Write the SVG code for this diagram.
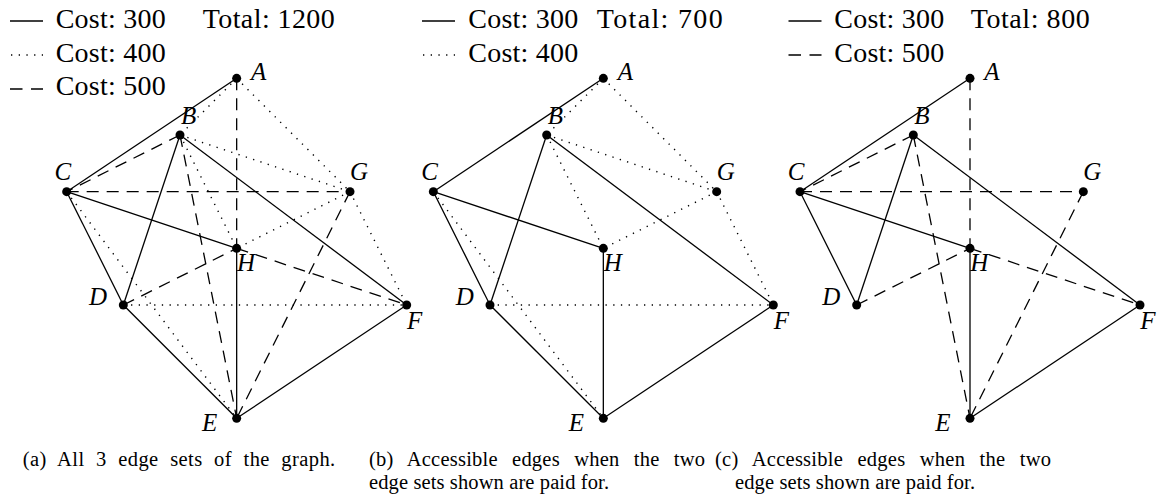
<svg xmlns="http://www.w3.org/2000/svg" width="1163" height="495" viewBox="0 0 1163 495">
<style>
.s{stroke:#000;stroke-width:1.3;fill:none}
.dt{stroke:#000;stroke-width:1.4;fill:none;stroke-dasharray:1.3 6.4}
.ds{stroke:#000;stroke-width:1.3;fill:none;stroke-dasharray:12 8}
.n{fill:#000}
.lb{font-family:"Liberation Serif",serif;font-style:italic;font-size:25px;fill:#000}
.lg{font-family:"Liberation Serif",serif;font-size:28px;fill:#000}
.cp{font-family:"Liberation Serif",serif;font-size:20.5px;fill:#000}
</style>
<rect width="1163" height="495" fill="#fff"/>
<g id="legend-a">
<line class="s" x1="10" y1="21" x2="43" y2="21"/>
<text class="lg" x="55.7" y="27.7" textLength="110" lengthAdjust="spacing">Cost: 300</text>
<text class="lg" x="202.7" y="27.7" textLength="132" lengthAdjust="spacing">Total: 1200</text>
<line class="dt" x1="11" y1="55" x2="43" y2="55"/>
<text class="lg" x="55.7" y="61.7" textLength="110" lengthAdjust="spacing">Cost: 400</text>
<line class="ds" x1="10" y1="89" x2="43" y2="89" style="stroke-dasharray:12.5 8.5"/>
<text class="lg" x="55.7" y="95.3" textLength="110" lengthAdjust="spacing">Cost: 500</text>
</g>
<g id="legend-b">
<line class="s" x1="422" y1="21" x2="455" y2="21"/>
<text class="lg" x="468.3" y="27.7" textLength="110" lengthAdjust="spacing">Cost: 300</text>
<text class="lg" x="596.7" y="27.7" textLength="126" lengthAdjust="spacing">Total: 700</text>
<line class="dt" x1="423" y1="55" x2="455" y2="55"/>
<text class="lg" x="468.3" y="61.7" textLength="110" lengthAdjust="spacing">Cost: 400</text>
</g>
<g id="legend-c">
<line class="s" x1="788.5" y1="21" x2="821.5" y2="21"/>
<text class="lg" x="834.3" y="27.7" textLength="110" lengthAdjust="spacing">Cost: 300</text>
<text class="lg" x="970.7" y="27.7" textLength="119" lengthAdjust="spacing">Total: 800</text>
<line class="ds" x1="788.5" y1="55" x2="821.5" y2="55" style="stroke-dasharray:12.5 8.5"/>
<text class="lg" x="834.3" y="61.7" textLength="110" lengthAdjust="spacing">Cost: 500</text>
</g>
<g id="connectors">
<!-- panel a -->
<line class="s" x1="236.67" y1="78.33" x2="66.67" y2="191.67"/>
<line class="s" x1="66.67" y1="191.67" x2="236.67" y2="248.33"/>
<line class="s" x1="66.67" y1="191.67" x2="123.33" y2="305"/>
<line class="s" x1="180" y1="135" x2="123.33" y2="305"/>
<line class="s" x1="180" y1="135" x2="406.67" y2="305"/>
<line class="s" x1="236.67" y1="248.33" x2="236.67" y2="418.33"/>
<line class="s" x1="123.33" y1="305" x2="236.67" y2="418.33"/>
<line class="s" x1="236.67" y1="418.33" x2="406.67" y2="305"/>
<line class="dt" x1="236.67" y1="78.33" x2="180" y2="135"/>
<line class="dt" x1="236.67" y1="78.33" x2="350" y2="191.67"/>
<line class="dt" x1="180" y1="135" x2="350" y2="191.67"/>
<line class="dt" x1="180" y1="135" x2="236.67" y2="248.33"/>
<line class="dt" x1="350" y1="191.67" x2="236.67" y2="248.33"/>
<line class="dt" x1="350" y1="191.67" x2="406.67" y2="305"/>
<line class="dt" x1="66.67" y1="191.67" x2="236.67" y2="418.33"/>
<line class="dt" x1="123.33" y1="305" x2="406.67" y2="305"/>
<line class="ds" x1="236.67" y1="78.33" x2="236.67" y2="248.33"/>
<line class="ds" x1="180" y1="135" x2="66.67" y2="191.67"/>
<line class="ds" x1="66.67" y1="191.67" x2="350" y2="191.67"/>
<line class="ds" x1="180" y1="135" x2="236.67" y2="418.33"/>
<line class="ds" x1="123.33" y1="305" x2="236.67" y2="248.33"/>
<line class="ds" x1="236.67" y1="248.33" x2="406.67" y2="305"/>
<line class="ds" x1="350" y1="191.67" x2="236.67" y2="418.33"/>
<!-- panel b -->
<line class="s" x1="603.33" y1="78.33" x2="433.33" y2="191.67"/>
<line class="s" x1="433.33" y1="191.67" x2="603.33" y2="248.33"/>
<line class="s" x1="433.33" y1="191.67" x2="490" y2="305"/>
<line class="s" x1="546.67" y1="135" x2="490" y2="305"/>
<line class="s" x1="546.67" y1="135" x2="773.33" y2="305"/>
<line class="s" x1="603.33" y1="248.33" x2="603.33" y2="418.33"/>
<line class="s" x1="490" y1="305" x2="603.33" y2="418.33"/>
<line class="s" x1="603.33" y1="418.33" x2="773.33" y2="305"/>
<line class="dt" x1="603.33" y1="78.33" x2="546.67" y2="135"/>
<line class="dt" x1="603.33" y1="78.33" x2="716.67" y2="191.67"/>
<line class="dt" x1="546.67" y1="135" x2="716.67" y2="191.67"/>
<line class="dt" x1="546.67" y1="135" x2="603.33" y2="248.33"/>
<line class="dt" x1="716.67" y1="191.67" x2="603.33" y2="248.33"/>
<line class="dt" x1="716.67" y1="191.67" x2="773.33" y2="305"/>
<line class="dt" x1="433.33" y1="191.67" x2="603.33" y2="418.33"/>
<line class="dt" x1="490" y1="305" x2="773.33" y2="305"/>
<!-- panel c -->
<line class="s" x1="970" y1="78.33" x2="800" y2="191.67"/>
<line class="s" x1="800" y1="191.67" x2="970" y2="248.33"/>
<line class="s" x1="800" y1="191.67" x2="856.67" y2="305"/>
<line class="s" x1="913.33" y1="135" x2="856.67" y2="305"/>
<line class="s" x1="913.33" y1="135" x2="1140" y2="305"/>
<line class="s" x1="970" y1="248.33" x2="970" y2="418.33"/>
<line class="s" x1="970" y1="418.33" x2="1140" y2="305"/>
<line class="ds" x1="970" y1="78.33" x2="970" y2="248.33"/>
<line class="ds" x1="913.33" y1="135" x2="800" y2="191.67"/>
<line class="ds" x1="800" y1="191.67" x2="1083.33" y2="191.67"/>
<line class="ds" x1="913.33" y1="135" x2="970" y2="418.33"/>
<line class="ds" x1="856.67" y1="305" x2="970" y2="248.33"/>
<line class="ds" x1="970" y1="248.33" x2="1140" y2="305"/>
<line class="ds" x1="1083.33" y1="191.67" x2="970" y2="418.33"/>
</g>
<!-- panel a nodes -->
<g id="a-A"><circle class="n" cx="236.67" cy="78.33" r="4.5"/><text class="lb" x="251" y="80">A</text></g>
<g id="a-B"><circle class="n" cx="180" cy="135" r="4.5"/><text class="lb" x="181" y="123.5">B</text></g>
<g id="a-C"><circle class="n" cx="66.67" cy="191.67" r="4.5"/><text class="lb" x="54.5" y="180">C</text></g>
<g id="a-G"><circle class="n" cx="350" cy="191.67" r="4.5"/><text class="lb" x="350" y="180">G</text></g>
<g id="a-H"><circle class="n" cx="236.67" cy="248.33" r="4.5"/><text class="lb" x="237" y="271">H</text></g>
<g id="a-D"><circle class="n" cx="123.33" cy="305" r="4.5"/><text class="lb" x="89" y="305">D</text></g>
<g id="a-F"><circle class="n" cx="406.67" cy="305" r="4.5"/><text class="lb" x="407" y="329">F</text></g>
<g id="a-E"><circle class="n" cx="236.67" cy="418.33" r="4.5"/><text class="lb" x="202" y="431">E</text></g>
<!-- panel b nodes -->
<g id="b-A"><circle class="n" cx="603.33" cy="78.33" r="4.5"/><text class="lb" x="617.7" y="80">A</text></g>
<g id="b-B"><circle class="n" cx="546.67" cy="135" r="4.5"/><text class="lb" x="547.7" y="123.5">B</text></g>
<g id="b-C"><circle class="n" cx="433.33" cy="191.67" r="4.5"/><text class="lb" x="421.2" y="180">C</text></g>
<g id="b-G"><circle class="n" cx="716.67" cy="191.67" r="4.5"/><text class="lb" x="716.7" y="180">G</text></g>
<g id="b-H"><circle class="n" cx="603.33" cy="248.33" r="4.5"/><text class="lb" x="603.7" y="271">H</text></g>
<g id="b-D"><circle class="n" cx="490" cy="305" r="4.5"/><text class="lb" x="455.7" y="305">D</text></g>
<g id="b-F"><circle class="n" cx="773.33" cy="305" r="4.5"/><text class="lb" x="773.7" y="329">F</text></g>
<g id="b-E"><circle class="n" cx="603.33" cy="418.33" r="4.5"/><text class="lb" x="568.7" y="431">E</text></g>
<!-- panel c nodes -->
<g id="c-A"><circle class="n" cx="970" cy="78.33" r="4.5"/><text class="lb" x="984.3" y="80">A</text></g>
<g id="c-B"><circle class="n" cx="913.33" cy="135" r="4.5"/><text class="lb" x="914.3" y="123.5">B</text></g>
<g id="c-C"><circle class="n" cx="800" cy="191.67" r="4.5"/><text class="lb" x="787.8" y="180">C</text></g>
<g id="c-G"><circle class="n" cx="1083.33" cy="191.67" r="4.5"/><text class="lb" x="1083.3" y="180">G</text></g>
<g id="c-H"><circle class="n" cx="970" cy="248.33" r="4.5"/><text class="lb" x="970.3" y="271">H</text></g>
<g id="c-D"><circle class="n" cx="856.67" cy="305" r="4.5"/><text class="lb" x="822.3" y="305">D</text></g>
<g id="c-F"><circle class="n" cx="1140" cy="305" r="4.5"/><text class="lb" x="1140.3" y="329">F</text></g>
<g id="c-E"><circle class="n" cx="970" cy="418.33" r="4.5"/><text class="lb" x="935.3" y="431">E</text></g>
<g id="captions">
<text class="cp" x="22.7" y="466" word-spacing="6" textLength="312.5" lengthAdjust="spacing">(a) All 3 edge sets of the graph.</text>
<text class="cp" x="369" y="466" word-spacing="9" textLength="336" lengthAdjust="spacing">(b) Accessible edges when the two</text>
<text class="cp" x="369" y="488.5" textLength="240" lengthAdjust="spacing">edge sets shown are paid for.</text>
<text class="cp" x="715" y="466" word-spacing="9" textLength="336" lengthAdjust="spacing">(c) Accessible edges when the two</text>
<text class="cp" x="735" y="488.5" textLength="240" lengthAdjust="spacing">edge sets shown are paid for.</text>
</g>
</svg>
